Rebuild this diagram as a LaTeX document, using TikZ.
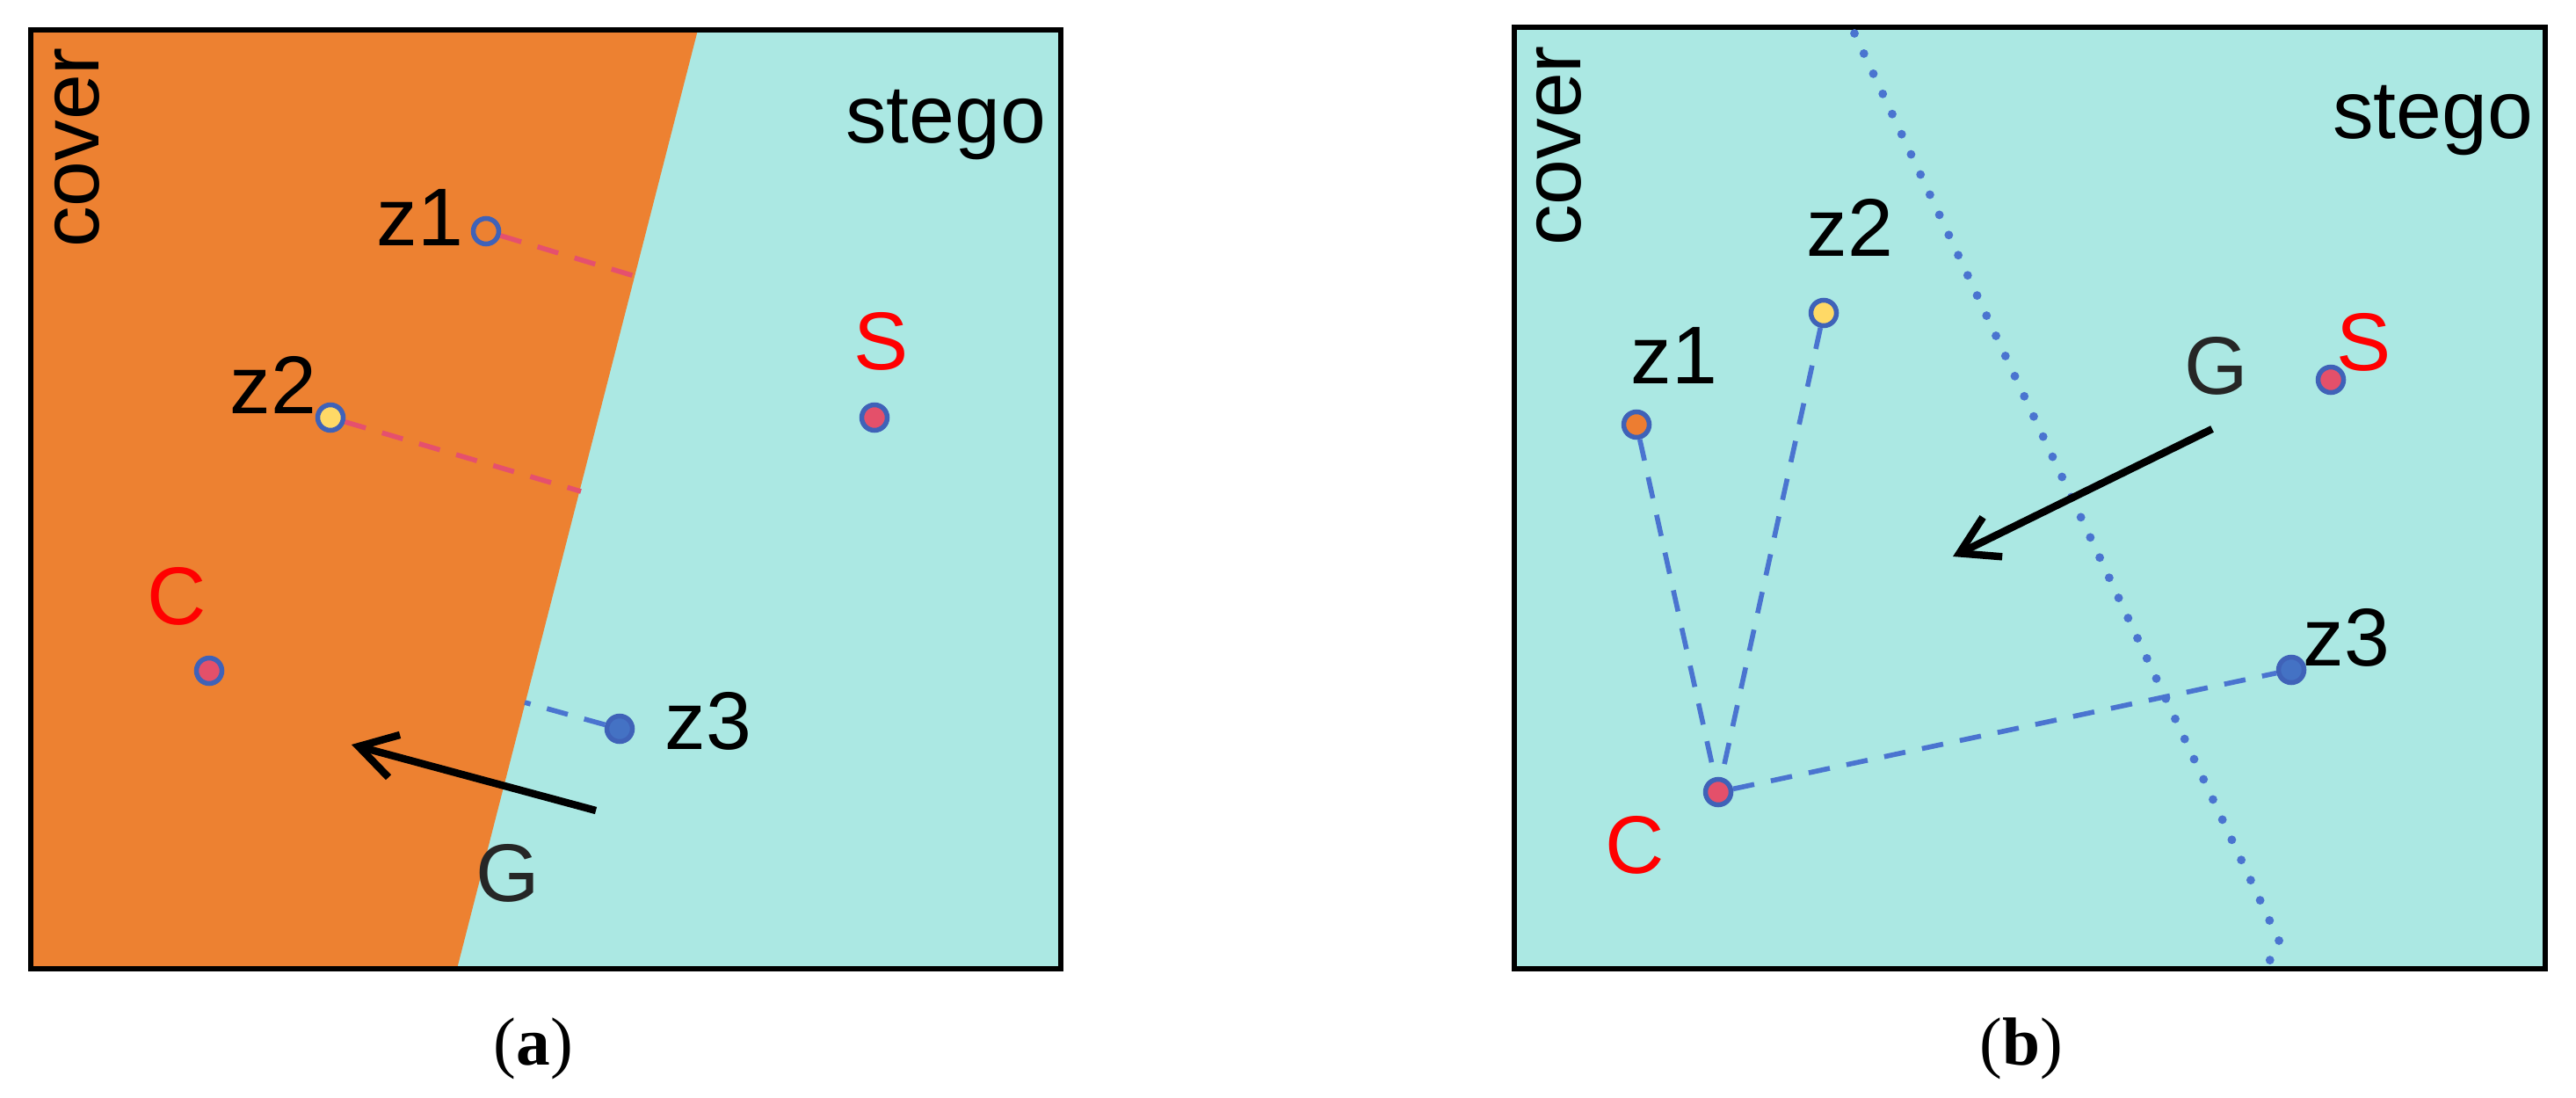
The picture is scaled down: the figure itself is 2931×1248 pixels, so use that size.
\documentclass[tikz,border=0pt]{standalone}
\usepackage{fontspec}
\setmainfont{Liberation Serif}
\newfontfamily\arialf{Liberation Sans}
\usetikzlibrary{arrows.meta}
\definecolor{bgcyan}{HTML}{ABE8E3}
\definecolor{bgorange}{HTML}{ED8131}
\definecolor{dotblue}{HTML}{3F62B8}
\definecolor{fillblue}{HTML}{4472C4}
\definecolor{fillred}{HTML}{E4506A}
\definecolor{fillyellow}{HTML}{FFD966}
\definecolor{fillorange}{HTML}{ED7D31}
\definecolor{dashred}{HTML}{E5506E}
\definecolor{dashblue}{HTML}{4A74D0}
\begin{document}
\begin{tikzpicture}[x=0.01cm,y=-0.01cm,
  lbl/.style={font=\arialf\fontsize{26.5}{30}\selectfont, inner sep=0pt},
  redlbl/.style={lbl, text=red},
  dotnode/.style={circle, draw=dotblue, line width=0.055cm, minimum size=0.29cm, inner sep=0pt},
  frame/.style={draw=black, line width=0.06cm},
  reddash/.style={draw=dashred, line width=1.6pt, dash pattern=on 7pt off 5.5pt},
  bluedash/.style={draw=dashblue, line width=1.6pt, dash pattern=on 7pt off 5.5pt},
  dotline/.style={draw=dashblue, line width=2.8pt, line cap=round, dash pattern=on 0pt off 7.2pt},
  garrow/.style={draw=black, line width=2.4pt, -{Straight Barb[length=0.42cm,width=0.5cm]}},
  caption/.style={font=\fontsize{22}{26}\selectfont, inner sep=0pt}
]
\useasboundingbox (0,0) rectangle (2931,1248);

% ---------------- panel (a) ----------------
\fill[bgcyan] (35,34) rectangle (1207,1102);
\fill[bgorange] (35,34) -- (794,34) -- (520,1102) -- (35,1102) -- cycle;
\draw[frame] (35,34) rectangle (1207,1102);

\node[lbl, rotate=90] (acover) at (88,168) {cover};
\node[lbl, anchor=base east] (astego) at (1191,162) {stego};

\coordinate (aq1) at (722,314);
\coordinate (aq2) at (661,559);
\coordinate (aq3) at (597,799);

\node[dotnode, fill=bgorange] (az1) at (553,263) {};
\node[dotnode, fill=fillyellow] (az2) at (376,475) {};
\node[dotnode, fill=fillred] (aS) at (995,475) {};
\node[dotnode, fill=fillred] (aC) at (238,763) {};
\node[dotnode, fill=fillblue] (az3) at (705,829) {};

\draw[reddash] (az1) -- (aq1);
\draw[reddash] (az2) -- (aq2);
\draw[bluedash] (az3) -- (aq3);

\node[lbl, anchor=base west] (az1l) at (428,279) {z1};
\node[lbl, anchor=base west] (az2l) at (261,470) {z2};
\node[redlbl, anchor=base west] (aSl) at (971,420) {S};
\node[redlbl, anchor=base west] (aCl) at (167,710) {C};
\node[lbl, anchor=base west] (az3l) at (756,852) {z3};
\node[lbl, anchor=base west, text=black!85] (aGl) at (541,1025) {G};

\coordinate (aGt) at (678,922);
\coordinate (aGh) at (400,847);
\draw[garrow] (aGt) -- (aGh);

\node[caption, anchor=base] (acap) at (607,1211) {(\textbf{a})};

% ---------------- panel (b) ----------------
\fill[bgcyan] (1723,31) rectangle (2896,1102);
\draw[frame] (1723,31) rectangle (2896,1102);

\node[lbl, rotate=90] (bcover) at (1774,166) {cover};
\node[lbl, anchor=base east] (bstego) at (2883,157) {stego};

\coordinate (bd1) at (2110,38);
\coordinate (bd2) at (2594,1072);
\coordinate (bd3) at (2580,1097);
\draw[dotline] (bd1) -- (bd2) -- (bd3);

\node[dotnode, fill=fillorange] (bz1) at (1862,483) {};
\node[dotnode, fill=fillyellow] (bz2) at (2075,356) {};
\node[dotnode, fill=fillred] (bS) at (2652,432) {};
\node[dotnode, fill=fillred] (bC) at (1955,901) {};
\node[dotnode, fill=fillblue] (bz3) at (2607,762) {};

\draw[bluedash] (bz1) -- (bC);
\draw[bluedash] (bz2) -- (bC);
\draw[bluedash] (bC) -- (bz3);

\node[lbl, anchor=base west] (bz1l) at (1855,436) {z1};
\node[lbl, anchor=base west] (bz2l) at (2055,291) {z2};
\node[lbl, anchor=base west, text=black!85] (bGl) at (2485,448) {G};
\node[redlbl, anchor=base west] (bSl) at (2658,421) {S};
\node[lbl, anchor=base west] (bz3l) at (2620,757) {z3};
\node[redlbl, anchor=base west] (bCl) at (1826,993) {C};

\coordinate (bGt) at (2517,488);
\coordinate (bGh) at (2222,633);
\draw[garrow] (bGt) -- (bGh);

\node[caption, anchor=base] (bcap) at (2300,1211) {(\textbf{b})};
\end{tikzpicture}
\end{document}
